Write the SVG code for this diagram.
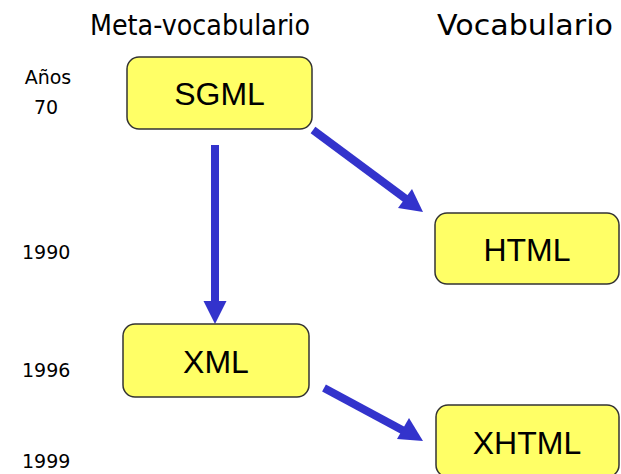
<svg xmlns="http://www.w3.org/2000/svg" width="621" height="474" viewBox="0 0 621 474">
  <style>
    .box { fill: #ffff66; stroke: #333333; stroke-width: 1.5; }
    .lbl { font-family: "Liberation Sans", Arial, sans-serif; font-size: 32px; fill: #000; text-anchor: middle; }
    .head { font-family: "DejaVu Sans", Verdana, sans-serif; font-size: 28px; fill: #000; }
    .year { font-family: "DejaVu Sans", Verdana, sans-serif; font-size: 19px; fill: #000; }
    .arrow { stroke: #3333cc; stroke-width: 8; fill: none; }
    .tip { fill: #3333cc; }
  </style>

  <!-- column headings -->
  <text class="head" x="90" y="35" textLength="220" lengthAdjust="spacingAndGlyphs">Meta-vocabulario</text>
  <text class="head" x="437" y="35" textLength="176" lengthAdjust="spacingAndGlyphs">Vocabulario</text>

  <!-- time axis labels -->
  <text class="year" x="48" y="84" text-anchor="middle">Años</text>
  <text class="year" x="46" y="114" text-anchor="middle">70</text>
  <text class="year" x="22" y="259">1990</text>
  <text class="year" x="22" y="377">1996</text>
  <text class="year" x="22" y="468">1999</text>

  <!-- connectors -->
  <g id="connectors">
    <line class="arrow" x1="215" y1="145" x2="215" y2="302"/>
    <polygon class="tip" points="203.5,301 226.5,301 215,324"/>
    <line class="arrow" x1="313" y1="130" x2="406" y2="199"/>
    <polygon class="tip" points="398,208 412,189 423,212"/>
    <line class="arrow" x1="324" y1="388" x2="404" y2="431"/>
    <polygon class="tip" points="397,439 409,418 423,441"/>
  </g>

  <!-- nodes -->
  <g id="sgml">
    <rect class="box" x="127" y="57" width="185" height="72" rx="12"/>
    <text class="lbl" x="219.5" y="105">SGML</text>
  </g>
  <g id="html">
    <rect class="box" x="435" y="213" width="184" height="71" rx="12"/>
    <text class="lbl" x="527" y="261">HTML</text>
  </g>
  <g id="xml">
    <rect class="box" x="123" y="324" width="186" height="73" rx="12"/>
    <text class="lbl" x="216" y="373">XML</text>
  </g>
  <g id="xhtml">
    <rect class="box" x="436" y="405" width="183" height="72" rx="12"/>
    <text class="lbl" x="527" y="454">XHTML</text>
  </g>
</svg>
